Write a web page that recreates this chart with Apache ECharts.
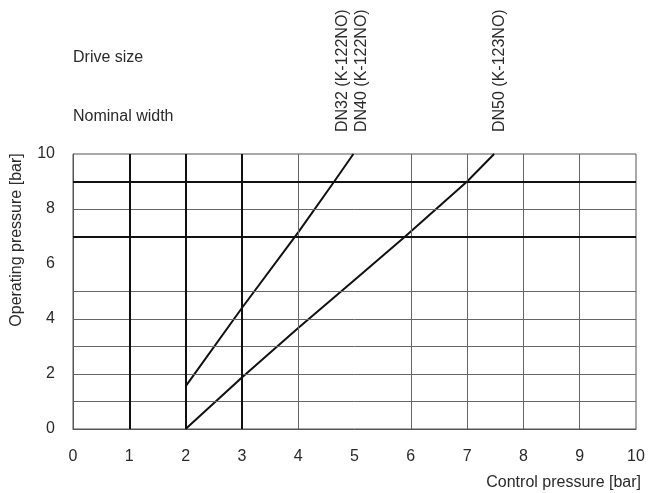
<!DOCTYPE html>
<html>
<head>
<meta charset="utf-8">
<script src="https://cdn.jsdelivr.net/npm/echarts@6/dist/echarts.min.js"></script>
<style>
html,body{margin:0;padding:0;background:#fff;}
#chart{width:650px;height:493px;}
</style>
</head>
<body>
<div id="chart"></div>
<script>
// DN32 / DN40 (K-122NO) curve, [control, operating]
var lineDN32 = [[2, 1.55], [3, 4.4], [4, 7.15], [4.64, 9], [4.98, 10]];
// DN50 (K-123NO) curve
var lineDN50 = [[2, 0], [3, 1.87], [4, 3.67], [5, 5.42], [5.9, 7], [7, 9], [7.48, 10]];

// grid lines actually drawn in the chart
var xGridThick = [1, 2, 3];
var xGridThin = [4, 6, 7, 8, 9];
var yGridThick = [7, 9];
var yGridThin = [1, 2, 3, 4, 5, 8];

var sizeLabels = ['DN32 (K-122NO)', 'DN40 (K-122NO)', 'DN50 (K-123NO)'];

var FONT = 'Liberation Sans, Arial, sans-serif';
var TXT = '#2a2a2a';
var FS = 16;

function gridLines(vals, axis, w, color) {
	return vals.map(function (v) {
		var d = {};
		d[axis] = v;
		d.lineStyle = {color: color, width: w, type: 'solid'};
		return d;
	});
}

var marks = []
	.concat(gridLines(xGridThin, 'xAxis', 1, '#666'))
	.concat(gridLines(yGridThin, 'yAxis', 1, '#666'))
	.concat(gridLines(xGridThick, 'xAxis', 2, '#111'))
	.concat(gridLines(yGridThick, 'yAxis', 2, '#111'));

function txt(s) {
	return {text: s, fill: TXT, font: FS + 'px ' + FONT};
}

var option = {
	backgroundColor: '#fff',
	animation: false,
	grid: {
		left: 73, right: 14, top: 154, bottom: 64,
		show: true, borderColor: '#555', borderWidth: 1
	},
	xAxis: {
		type: 'value', min: 0, max: 10, interval: 1,
		axisLine: {show: true, lineStyle: {color: '#555'}},
		axisTick: {show: false},
		splitLine: {show: false},
		axisLabel: {color: TXT, fontSize: FS, fontFamily: FONT, margin: 20}
	},
	yAxis: {
		type: 'value', min: 0, max: 10, interval: 2,
		axisLine: {show: true, lineStyle: {color: '#555'}},
		axisTick: {show: false},
		splitLine: {show: false},
		axisLabel: {color: TXT, fontSize: FS, fontFamily: FONT, margin: 18}
	},
	series: [
		{
			type: 'line', data: lineDN32, symbol: 'none', silent: true,
			lineStyle: {color: '#111', width: 2},
			markLine: {symbol: 'none', silent: true, label: {show: false}, data: marks}
		},
		{
			type: 'line', data: lineDN50, symbol: 'none', silent: true,
			lineStyle: {color: '#111', width: 2}
		}
	],
	graphic: [
		{type: 'text', x: 73, y: 58, style: Object.assign(txt('Drive size'), {verticalAlign: 'middle'})},
		{type: 'text', x: 73, y: 117, style: Object.assign(txt('Nominal width'), {verticalAlign: 'middle'})},
		{type: 'text', x: 343, y: 132, rotation: Math.PI / 2,
			style: Object.assign(txt(sizeLabels[0]), {align: 'left', verticalAlign: 'middle'})},
		{type: 'text', x: 362, y: 132, rotation: Math.PI / 2,
			style: Object.assign(txt(sizeLabels[1]), {align: 'left', verticalAlign: 'middle'})},
		{type: 'text', x: 500, y: 132, rotation: Math.PI / 2,
			style: Object.assign(txt(sizeLabels[2]), {align: 'left', verticalAlign: 'middle'})},
		{type: 'text', x: 17, y: 240, rotation: Math.PI / 2,
			style: Object.assign(txt('Operating pressure [bar]'), {align: 'center', verticalAlign: 'middle'})},
		{type: 'text', x: 641, y: 483,
			style: Object.assign(txt('Control pressure [bar]'), {align: 'right', verticalAlign: 'middle'})}
	]
};

echarts.init(document.getElementById('chart')).setOption(option);
</script>
</body>
</html>
